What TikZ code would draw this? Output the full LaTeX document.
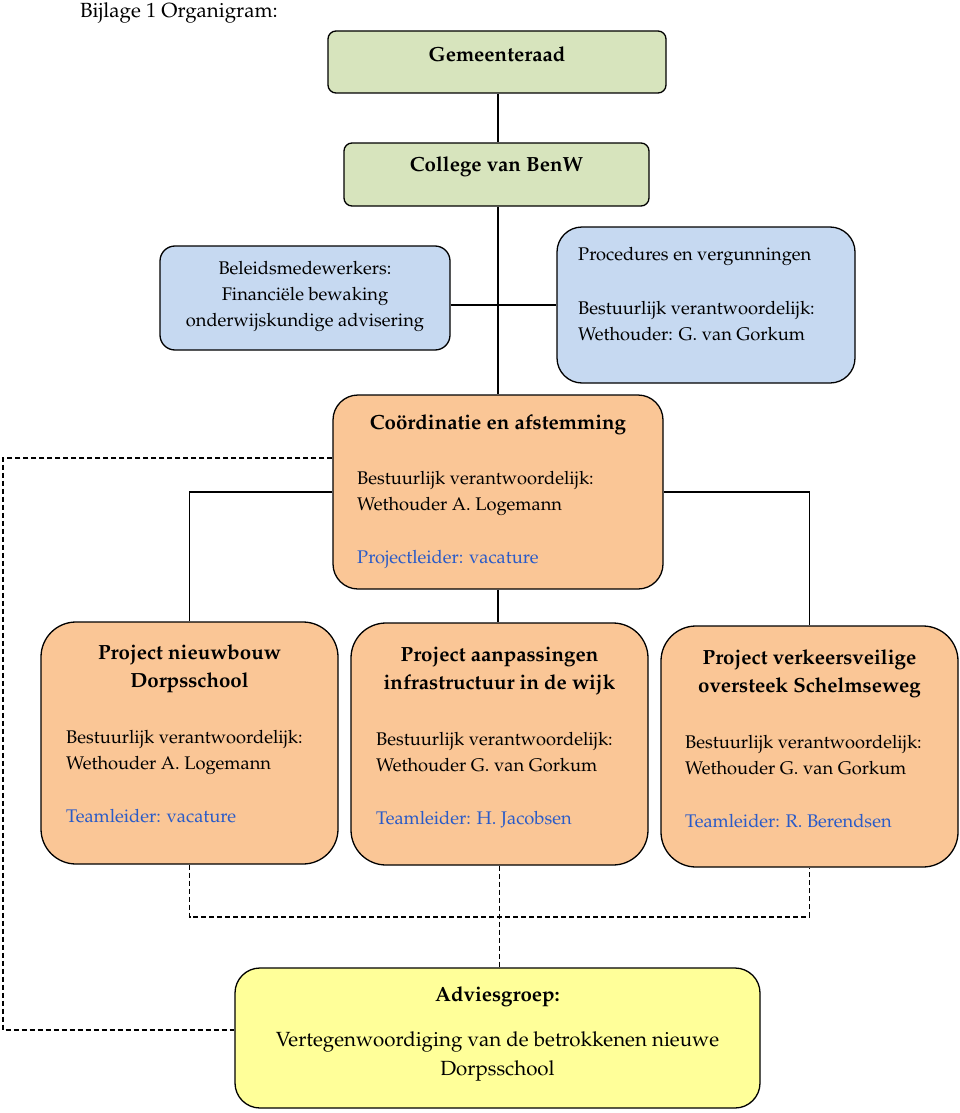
\documentclass[tikz,border=0pt]{standalone}
\usepackage[T1]{fontenc}
\usepackage{mathpazo}
\usepackage{tikz}
\usetikzlibrary{positioning}
\definecolor{raadgreen}{HTML}{D7E4BD}
\definecolor{staffblue}{HTML}{C6D9F1}
\definecolor{projorange}{HTML}{FAC696}
\definecolor{adviesyellow}{HTML}{FFFF99}
\definecolor{leadblue}{HTML}{2A5BC8}
\tikzset{gbox/.style={draw,fill=raadgreen,rounded corners=8pt,line width=1.3pt,inner sep=0pt},
	 bbox/.style={draw,fill=staffblue,line width=1.3pt,inner sep=0pt},
	 obox/.style={draw,fill=projorange,line width=1.3pt,inner sep=0pt},
	 ybox/.style={draw,fill=adviesyellow,rounded corners=25pt,line width=1.3pt,inner sep=0pt},
	 head/.style={font=\fontsize{20.5}{28}\selectfont\bfseries,align=center,inner sep=0pt},
	 body/.style={font=\fontsize{18.3}{26}\selectfont,align=left,inner sep=0pt,anchor=north west},
	 lead/.style={body,text=leadblue},
	 link/.style={line width=1.1pt},
	 dlink/.style={line width=1.1pt,dash pattern=on 5pt off 3pt}
	 }

\begin{document}
\begin{tikzpicture}[x=1pt,y=-1pt]
	\useasboundingbox (0,0) rectangle (960,1113);
	\node[font=\fontsize{20.5}{24}\selectfont,anchor=west,inner sep=0pt] (title) at (80,13) {Bijlage 1 Organigram:};
	% boxes
	\node[gbox,minimum width=338pt,minimum height=62pt] (raad) at (497,62) {};
	\node[gbox,minimum width=305pt,minimum height=63pt] (college) at (496.5,174.5) {};
	\node[bbox,rounded corners=15pt,minimum width=290pt,minimum height=104pt] (beleid) at (305,298) {};
	\node[bbox,rounded corners=25pt,minimum width=298pt,minimum height=156pt] (proc) at (706,305) {};
	\node[obox,rounded corners=25pt,minimum width=330pt,minimum height=194pt] (coord) at (498,492) {};
	\node[obox,rounded corners=35pt,minimum width=297pt,minimum height=242pt] (pr1) at (189.5,743) {};
	\node[obox,rounded corners=35pt,minimum width=297pt,minimum height=242pt] (pr2) at (499.5,744) {};
	\node[obox,rounded corners=35pt,minimum width=297pt,minimum height=241pt] (pr3) at (809.5,746.5) {};
	\node[ybox,minimum width=525pt,minimum height=140pt] (advies) at (497.5,1038) {};
	% texts
	\node[head] (raadT) at (497,54) {Gemeenteraad};
	\node[head] (collegeT) at (496.5,167) {College van BenW};
	\node[body,align=center,anchor=north] (beleidT) at (305,261) {Beleidsmedewerkers:\\Financi\"ele bewaking\\onderwijskundige advisering};
	\node[body] (procT) at (578,247) {Procedures en vergunningen};
	\node[body] (procB) at (578,301) {Bestuurlijk verantwoordelijk:\\Wethouder: G. van Gorkum};
	\node[head] (coordT) at (498,425) {Co\"ordinatie en afstemming};
	\node[body] (coordB) at (357,471) {Bestuurlijk verantwoordelijk:\\Wethouder A. Logemann};
	\node[lead] (coordL) at (357,550) {Projectleider: vacature};
	\node[head] (pr1T) at (189.5,669) {Project nieuwbouw\\Dorpsschool};
	\node[body] (pr1B) at (66,730) {Bestuurlijk verantwoordelijk:\\Wethouder A. Logemann};
	\node[lead] (pr1L) at (66,809) {Teamleider: vacature};
	\node[head] (pr2T) at (499.5,671) {Project aanpassingen\\infrastructuur in de wijk};
	\node[body] (pr2B) at (376,732) {Bestuurlijk verantwoordelijk:\\Wethouder G. van Gorkum};
	\node[lead] (pr2L) at (376,811) {Teamleider: H. Jacobsen};
	\node[head] (pr3T) at (809.5,674) {Project verkeersveilige\\oversteek Schelmseweg};
	\node[body] (pr3B) at (685,735) {Bestuurlijk verantwoordelijk:\\Wethouder G. van Gorkum};
	\node[lead] (pr3L) at (685,814) {Teamleider: R. Berendsen};
	\node[head] (adviesT) at (497.5,997) {Adviesgroep:};
	\node[body,font=\fontsize{20.5}{29}\selectfont,align=center,anchor=north] (adviesB) at (497.5,1031) {Vertegenwoordiging van de betrokkenen nieuwe\\Dorpsschool};
	% lines
	\draw[link] (raad.south -| coord.north) -- (college.north -| coord.north);
	\draw[link] (college.south -| coord.north) -- (coord.north);
	\draw[link] (beleid.east |- proc.west) -- (proc.west);
	\draw[link] (coord.west) -| (pr1.north);
	\draw[link] (coord.east) -| (pr3.north);
	\draw[link] (coord.south) -- (coord.south |- pr2.north);
	% dashed lines
	\coordinate (join) at (499,917);
	\coordinate (lt) at (3,458);
	\coordinate (lb) at (3,1030);
	\draw[dlink] (pr1.south) |- (join) -| (pr3.south);
	\draw[dlink] (pr2.south) -- (advies.north -| pr2.south);
	\draw[dlink] (lt -| coord.west) -- (lt) -- (lb) -- (lb -| advies.west);
\end{tikzpicture}
\end{document}
